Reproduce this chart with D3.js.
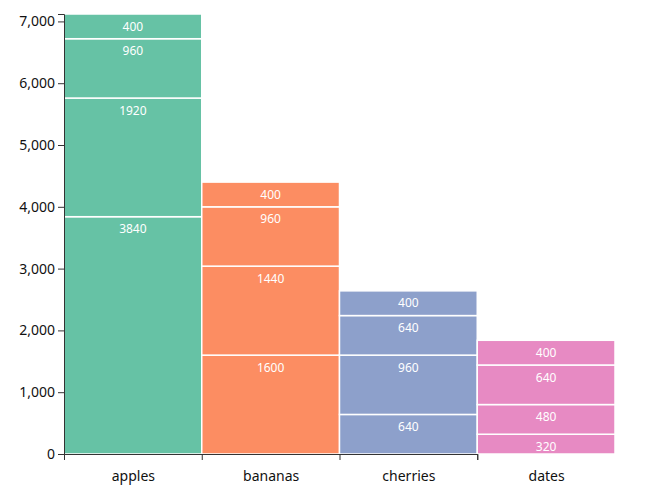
<!DOCTYPE html>
<html>
<head>
<meta charset="utf-8">
<script src="https://cdn.jsdelivr.net/npm/d3@7"></script>
<style>
  html, body { margin: 0; padding: 0; background: #fff; }
  svg { display: block; font-family: "Noto Sans", sans-serif; }
</style>
</head>
<body>
<svg id="chart" width="653" height="499"></svg>
<script>
const categories = ["apples", "bananas", "cherries", "dates"];
const seriesKeys = ["s1", "s2", "s3", "s4"];
// stacked from bottom to top
const s1 = [3840, 1600, 640, 320];
const s2 = [1920, 1440, 960, 480];
const s3 = [960, 960, 640, 640];
const s4 = [400, 400, 400, 400];
const yTicks = [0, 1000, 2000, 3000, 4000, 5000, 6000, 7000];
const colors = ["#66c2a5", "#fc8d62", "#8da0cb", "#e78ac3"];

(function () {
const table = categories.map((c, i) => ({ category: c, s1: s1[i], s2: s2[i], s3: s3[i], s4: s4[i] }));
const stacked = d3.stack().keys(seriesKeys)(table);

const svg = d3.select("#chart");
const mLeft = 64, mRight = 615, mBottom = 454, mTop = 14;

const x = d3.scaleBand().domain(categories).range([mLeft, mRight]).padding(0);
const maxTotal = d3.max(table, d => d.s1 + d.s2 + d.s3 + d.s4);
const y = d3.scaleLinear().domain([0, maxTotal]).range([mBottom, mTop]);
const color = d3.scaleOrdinal().domain(categories).range(colors);

// bars
const layers = svg.append("g");
stacked.forEach(layer => {
  layers.append("g").selectAll("rect")
    .data(layer)
    .join("rect")
    .attr("x", d => x(d.data.category))
    .attr("y", d => y(d[1]))
    .attr("width", x.bandwidth())
    .attr("height", d => y(d[0]) - y(d[1]))
    .attr("fill", d => color(d.data.category))
    .attr("stroke", "#fff")
    .attr("stroke-width", 1.5);
});

// labels
stacked.forEach(layer => {
  svg.append("g").selectAll("text")
    .data(layer)
    .join("text")
    .attr("x", d => x(d.data.category) + x.bandwidth() / 2)
    .attr("y", d => y(d[1]) + 16.5)
    .attr("text-anchor", "middle")
    .attr("fill", "#fff")
    .attr("font-size", 12)
    .text(d => d[1] - d[0]);
});

// y axis
const yAxis = svg.append("g")
  .attr("transform", `translate(${mLeft},0)`)
  .call(d3.axisLeft(y).tickValues(yTicks).tickFormat(d3.format(",")));
yAxis.selectAll("text").attr("font-size", 14).attr("font-family", "Noto Sans, sans-serif").attr("fill", "#111");
yAxis.selectAll("path, line").attr("stroke", "#333");

// x axis: ticks at band starts, labels centered in bands
const xp = d3.scalePoint().domain(categories).range([mLeft, x(categories[categories.length - 1])]);
const xAxis = svg.append("g")
  .attr("transform", `translate(0,${mBottom})`)
  .call(d3.axisBottom(xp));
xAxis.selectAll("text")
  .attr("font-size", 14)
  .attr("font-family", "Noto Sans, sans-serif")
  .attr("fill", "#111")
  .attr("dy", null)
  .attr("y", 27)
  .attr("x", x.bandwidth() / 2);
xAxis.selectAll("path, line").attr("stroke", "#333");
})();
</script>
</body>
</html>
